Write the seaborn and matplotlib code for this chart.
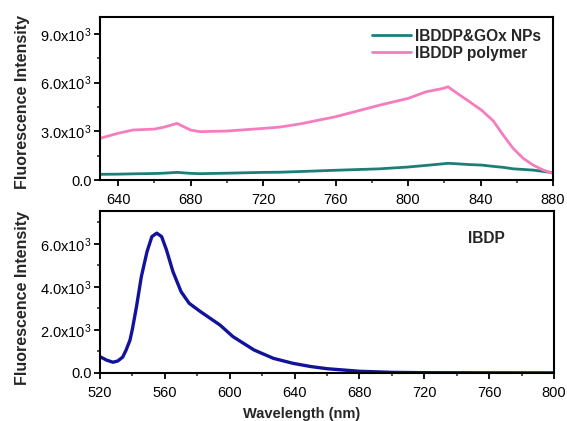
import numpy as np
import pandas as pd
import matplotlib
matplotlib.use("Agg")
import matplotlib.pyplot as plt
import seaborn as sns
from matplotlib.ticker import MultipleLocator, FuncFormatter

# ---- data ----
wl_top = [630, 640, 648, 660, 665, 672.5, 680, 685, 700, 720, 729, 740, 760, 784.5,
          800, 810, 819.5, 822, 828.5, 834, 840.5, 847, 852.5, 858, 863.5, 869,
          874.5, 880]
polymer = [2570, 2880, 3080, 3140, 3250, 3490, 3080, 2980, 3020, 3180, 3260, 3450,
           3900, 4620, 5030, 5440, 5650, 5750, 5240, 4820, 4310, 3650, 2770, 1950,
           1340, 920, 620, 410]
nps = [350, 360, 380, 400, 420, 470, 410, 390, 420, 470, 480, 520, 600, 690, 800,
       900, 1000, 1030, 990, 950, 920, 840, 780, 690, 650, 610, 530, 450]

wl_bot = [520, 524, 528, 531, 534, 536, 538.5, 540, 542.5, 545.5, 549, 552, 555,
          558, 561, 565, 570, 575, 582, 594, 602, 615, 627, 639, 650, 660, 680,
          700, 720, 760, 800]
ibdp = [760, 600, 500, 560, 740, 1050, 1530, 2050, 3080, 4480, 5640, 6340, 6500,
        6340, 5720, 4710, 3780, 3240, 2850, 2230, 1690, 1070, 680, 450, 300, 200,
        80, 30, 15, 8, 5]

series_names = ["IBDDP&GOx NPs", "IBDDP polymer"]
colors = {"IBDDP&GOx NPs": "#1b7f78", "IBDDP polymer": "#f67dbd"}

top_df = pd.concat([
    pd.DataFrame({"wl": wl_top, "val": nps, "series": series_names[0]}),
    pd.DataFrame({"wl": wl_top, "val": polymer, "series": series_names[1]}),
])
bot_df = pd.DataFrame({"wl": wl_bot, "val": ibdp})

sns.set_style("ticks")
plt.rcParams["font.family"] = ["Liberation Sans", "DejaVu Sans"]
plt.rcParams["mathtext.fontset"] = "custom"
plt.rcParams["mathtext.rm"] = "Liberation Sans"
plt.rcParams["mathtext.it"] = "Liberation Sans"

fig = plt.figure(figsize=(5.67, 4.21), dpi=100)
ax1 = fig.add_axes([100 / 567, 1 - 180 / 421, 453 / 567, 163 / 421])
ax2 = fig.add_axes([100 / 567, 1 - 373 / 421, 454 / 567, 162 / 421])

sns.lineplot(data=top_df, x="wl", y="val", hue="series", palette=colors,
             hue_order=series_names, ax=ax1, linewidth=2.0, sort=False)
sns.lineplot(data=bot_df, x="wl", y="val", ax=ax2, color="#12129a",
             linewidth=2.4, sort=False)


def fmt(v, pos):
    if abs(v) < 1e-9:
        return "0.0"
    return r"$\mathregular{%.1fx10^{3}}$" % (v / 1000)


for ax in (ax1, ax2):
    for s in ax.spines.values():
        s.set_linewidth(1.5)
        s.set_color("black")
    ax.tick_params(which="major", direction="out", length=4, width=1.3,
                   labelsize=10.5, colors="black")
    ax.tick_params(axis="x", which="major", pad=5.5)
    ax.tick_params(axis="y", which="major", pad=2)
    ax.tick_params(which="minor", direction="out", length=2.5, width=1.1)
    ax.yaxis.set_major_formatter(FuncFormatter(fmt))
    ax.set_xlabel("")
    ax.set_ylabel("Fluorescence Intensity", fontsize=11.5, fontweight="bold")
    ax.yaxis.label.set_va("center")

ax1.yaxis.set_label_coords(-0.17, 0.48)
ax2.yaxis.set_label_coords(-0.17, 0.46)

ax1.set_xlim(630, 880)
ax1.set_ylim(0, 10050)
ax1.xaxis.set_major_locator(MultipleLocator(40))
ax1.xaxis.set_minor_locator(MultipleLocator(20))
ax1.yaxis.set_major_locator(MultipleLocator(3000))
ax1.yaxis.set_minor_locator(MultipleLocator(1500))
leg = ax1.legend(loc="upper right", frameon=False, handlelength=2.5,
                 handletextpad=0.3, labelspacing=0.12, borderaxespad=0.35,
                 prop={"weight": "bold", "size": 11.2})
for h in leg.get_lines():
    h.set_linewidth(2.0)

ax2.set_xlim(520, 800)
ax2.set_ylim(0, 7530)
ax2.xaxis.set_major_locator(MultipleLocator(40))
ax2.xaxis.set_minor_locator(MultipleLocator(20))
ax2.yaxis.set_major_locator(MultipleLocator(2000))
ax2.yaxis.set_minor_locator(MultipleLocator(1000))
ax2.text(0.85, 0.83, "IBDP", transform=ax2.transAxes, fontsize=11.2,
         fontweight="bold", ha="center", va="center")

fig.text(302 / 567, 1 - 414 / 421, "Wavelength (nm)", fontsize=10.5,
         fontweight="bold", ha="center", va="center")

fig.savefig("out.png", dpi=100)
